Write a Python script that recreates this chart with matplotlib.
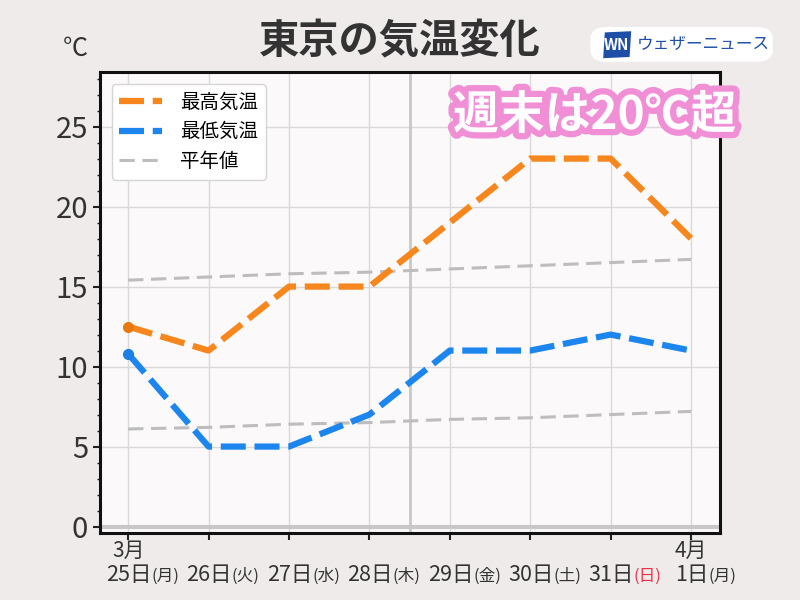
import matplotlib
matplotlib.use("Agg")
import matplotlib.pyplot as plt
import matplotlib.patheffects as pe
from matplotlib.offsetbox import TextArea, HPacker, AnnotationBbox
from matplotlib.patches import FancyBboxPatch, Polygon
from matplotlib.ticker import MultipleLocator

plt.rcParams['font.family'] = ['Noto Sans CJK JP', 'DejaVu Sans']

# data
days = ["25日", "26日", "27日", "28日", "29日", "30日", "31日", "1日"]
weekdays = ["(月)", "(火)", "(水)", "(木)", "(金)", "(土)", "(日)", "(月)"]
months = {0: "3月", 7: "4月"}
max_temp = [12.5, 11, 15, 15, 19, 23, 23, 18]
min_temp = [10.8, 5, 5, 7, 11, 11, 12, 11]
normal_max = [15.4, 15.6, 15.8, 15.9, 16.1, 16.3, 16.5, 16.7]
normal_min = [6.1, 6.2, 6.4, 6.5, 6.7, 6.8, 7.0, 7.2]
now_pos = 3.5

orange = '#F7861C'
blue = '#1C86EE'
grey = '#BDBDBD'
text_col = '#333333'

fig = plt.figure(figsize=(8, 6), dpi=100, facecolor='#EEEBEA')
ax = fig.add_axes([0.125, 0.1117, 0.775, 0.768])
ax.set_facecolor('#FBF9FA')

x = list(range(len(days)))

ax.grid(True, color='#D9D9D9', linewidth=1)
ax.set_axisbelow(True)
ax.axhline(0, color='#C8C8C8', linewidth=3, zorder=1)
ax.axvline(now_pos, color='#C8C8C8', linewidth=2, zorder=1)

dash = (4.0, 1.4)
l_nmax, = ax.plot(x, normal_max, color=grey, linewidth=2.2, dashes=(5, 2.5), zorder=2, label='平年値')
ax.plot(x, normal_min, color=grey, linewidth=2.2, dashes=(5, 2.5), zorder=2)
l_max, = ax.plot(x, max_temp, color=orange, linewidth=4.5, dashes=dash, dash_capstyle='butt', zorder=3, label='最高気温')
l_min, = ax.plot(x, min_temp, color=blue, linewidth=4.5, dashes=dash, dash_capstyle='butt', zorder=3, label='最低気温')
ax.plot(x[0], max_temp[0], 'o', color='#E8790F', markersize=7, zorder=4)
ax.plot(x[0], min_temp[0], 'o', color='#1A7FE6', markersize=7, zorder=4)

ax.set_xlim(-0.35, 7.36)
ax.set_ylim(-0.4, 28.4)
ax.yaxis.set_major_locator(MultipleLocator(5))
ax.yaxis.set_minor_locator(MultipleLocator(1))
ax.set_xticks(x)
ax.set_xticklabels([])
ax.tick_params(axis='y', which='major', labelsize=21, length=5, width=1.5, colors='#222222', labelcolor=text_col)
ax.tick_params(axis='y', which='minor', length=2.5, width=1, colors='#222222')
ax.tick_params(axis='x', length=5, width=1.5, colors='#222222')
for s in ax.spines.values():
    s.set_linewidth(2.2)
    s.set_color('#111111')

# x tick labels
for i in x:
    row = [TextArea(days[i], textprops=dict(fontsize=15.5, color=text_col)),
           TextArea(weekdays[i], textprops=dict(fontsize=12, color='#E8334A' if weekdays[i] == "(日)" else text_col))]
    box = HPacker(children=row, align='baseline', pad=0, sep=0)
    ab = AnnotationBbox(box, (i, 0), xycoords=('data', 'axes fraction'),
                        xybox=(10.5, -30), boxcoords='offset points', frameon=False,
                        box_alignment=(0.5, 0.5))
    ax.add_artist(ab)
    if i in months:
        ax.annotate(months[i], (i, 0), xycoords=('data', 'axes fraction'),
                    xytext=(0, -13), textcoords='offset points', ha='center', va='center',
                    fontsize=15, color=text_col)

leg = ax.legend([l_max, l_min, l_nmax], ['最高気温', '最低気温', '平年値'],
                loc='upper left', fontsize=14, handlelength=2.2, frameon=True,
                borderaxespad=0.6, labelspacing=0.45, handletextpad=0.9)
leg.get_frame().set_facecolor('white')
leg.get_frame().set_edgecolor('#D5D5D5')
leg.get_frame().set_alpha(1)

ax.text(0.798, 0.905, "週末は20℃超", transform=ax.transAxes, ha='center', va='center',
        fontsize=33, fontweight='bold', color='white', zorder=6,
        path_effects=[pe.withStroke(linewidth=9, foreground='#F08ED6')])

fig.text(0.5, 0.93, "東京の気温変化", ha='center', va='center', fontsize=29,
         fontweight='bold', color=text_col)
fig.text(0.094, 0.918, "℃", ha='center', va='center', fontsize=18, color=text_col)

# logo
logo = FancyBboxPatch((0.738, 0.897), 0.228, 0.058, boxstyle='round,pad=0,rounding_size=0.02',
                      transform=fig.transFigure, facecolor='white', edgecolor='none')
fig.patches.append(logo)
sq = Polygon([(0.754, 0.903), (0.787, 0.905), (0.789, 0.948), (0.756, 0.946)], closed=True,
             transform=fig.transFigure, facecolor='#1E4FA8', edgecolor='none')
fig.patches.append(sq)
fig.text(0.771, 0.925, "WN", ha='center', va='center', fontsize=11, fontweight='bold',
         style='italic', color='white')
fig.text(0.879, 0.925, "ウェザーニュース", ha='center', va='center', fontsize=12,
         color='#1E4FA8')

fig.savefig('out.png', dpi=100, facecolor=fig.get_facecolor())
